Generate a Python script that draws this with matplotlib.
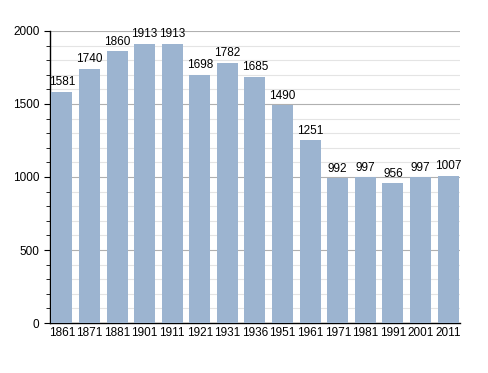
import matplotlib
matplotlib.use("Agg")
import matplotlib.pyplot as plt
from matplotlib.ticker import MultipleLocator

plt.rcParams["font.family"] = ["Liberation Sans", "DejaVu Sans"]

# census years and population
years = ["1861", "1871", "1881", "1901", "1911", "1921", "1931", "1936",
         "1951", "1961", "1971", "1981", "1991", "2001", "2011"]
population = [1581, 1740, 1860, 1913, 1913, 1698, 1782, 1685,
              1490, 1251, 992, 997, 956, 997, 1007]

fig = plt.figure(figsize=(4.88, 3.73), dpi=100)
ax = fig.add_axes([0.1025, 0.134, 0.840, 0.783])

x = range(len(years))
ax.bar(x, population, width=0.76, color="#9cb4d0", zorder=3)

for xi, v in zip(x, population):
    ax.text(xi, v + 25, str(v), ha="center", va="bottom", fontsize=8.5,
            color="black", zorder=4)

ax.set_xlim(-0.43, 14.43)
ax.set_ylim(0, 2000)
ax.set_xticks(list(x))
ax.set_xticklabels(years, fontsize=8.5)
ax.yaxis.set_major_locator(MultipleLocator(500))
ax.yaxis.set_minor_locator(MultipleLocator(100))
ax.tick_params(axis="y", labelsize=8.5, length=4)
ax.tick_params(axis="y", which="minor", length=3)
ax.tick_params(axis="x", length=0, pad=3)

ax.grid(axis="y", which="major", color="#b0b0b0", linewidth=0.8, zorder=0)
ax.grid(axis="y", which="minor", color="#e4e4e4", linewidth=0.8, zorder=0)

for side in ["top", "right"]:
    ax.spines[side].set_visible(False)
ax.spines["left"].set_linewidth(1.0)
ax.spines["bottom"].set_linewidth(1.0)

fig.savefig("out.png", dpi=100)
